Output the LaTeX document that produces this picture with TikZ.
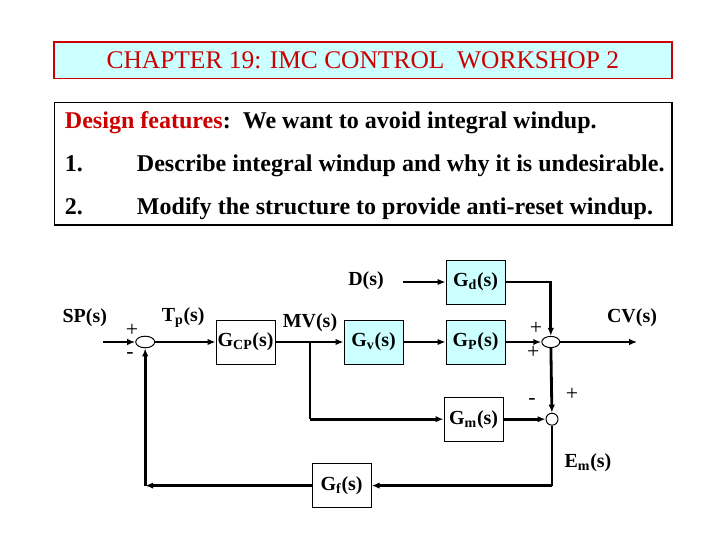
\documentclass[tikz,border=0pt]{standalone}
\usepackage{fontspec}
\setmainfont{Liberation Serif}
\usetikzlibrary{shapes.geometric,arrows.meta}
\definecolor{tred}{RGB}{204,0,0}
\definecolor{tcyan}{RGB}{204,255,255}

\begin{document}
\begin{tikzpicture}[>={Latex[length=2mm,width=1.6mm]},
  blk/.style={draw,line width=0.7pt,minimum width=1.475cm,minimum height=1.1cm,inner sep=0pt,font=\fontsize{14.2}{16}\selectfont\bfseries},
  cblk/.style={blk,fill=tcyan},
  lbl/.style={font=\fontsize{14.2}{16}\selectfont\bfseries},
  sgn/.style={font=\fontsize{15.5}{16}\selectfont,inner sep=0pt},
  sumnode/.style={draw,line width=0.7pt,ellipse,minimum width=0.475cm,minimum height=0.29cm,inner sep=0pt},
  sig/.style={line width=2pt},
  wire/.style={line width=0.8pt}]
\useasboundingbox (0,0) rectangle (18,13.5);
% heading
\draw[tred,fill=tcyan,line width=0.8pt] (1.35,11.54) rectangle (16.8,12.45);
\node[tred,font=\fontsize{18.1}{20}\selectfont] (title) at (9.07,12.0) {CHAPTER 19: IMC CONTROL\ \ WORKSHOP 2};
\draw[line width=0.8pt] (1.37,7.875) rectangle (16.8,10.94);
\node[anchor=base west,font=\fontsize{17.1}{19}\selectfont\bfseries] (feat) at (1.5,10.28) {{\color{tred}Design features}:\ \ We want to avoid integral windup.};
\node[anchor=base west,font=\fontsize{17.1}{19}\selectfont\bfseries] (one) at (1.5,9.2) {1.};
\node[anchor=base west,font=\fontsize{17.1}{19}\selectfont\bfseries] (onetxt) at (3.3,9.2) {Describe integral windup and why it is undesirable.};
\node[anchor=base west,font=\fontsize{17.1}{19}\selectfont\bfseries] (two) at (1.5,8.125) {2.};
\node[anchor=base west,font=\fontsize{17.1}{19}\selectfont\bfseries] (twotxt) at (3.3,8.125) {Modify the structure to provide anti-reset windup.};

% blocks
\node[sumnode] (sum1) at (3.63,4.95) {};
\node[blk] (gcp) at (6.14,4.95) {G\textsubscript{CP}(s)};
\node[cblk] (gv) at (9.34,4.95) {G\textsubscript{v}(s)};
\node[cblk] (gp) at (11.89,4.95) {G\textsubscript{P}(s)};
\node[cblk] (gd) at (11.89,6.45) {G\textsubscript{d}(s)};
\node[sumnode,minimum width=0.45cm,minimum height=0.28cm] (sum2) at (13.77,4.95) {};
\node[blk] (gm) at (11.84,3.02) {G\textsubscript{m}(s)};
\node[draw,circle,line width=0.7pt,minimum size=0.3cm,inner sep=0pt] (cmp) at (13.8,3.02) {};
\node[blk] (gf) at (8.54,1.36) {G\textsubscript{f}(s)};

% labels
\node[lbl] (sp) at (2.12,5.55) {SP(s)};
\node[lbl] (tp) at (4.58,5.55) {T\textsubscript{p}(s)};
\node[lbl] (mvl) at (7.75,5.42) {MV(s)};
\node[lbl] (dist) at (9.15,6.47) {D(s)};
\node[lbl] (cvl) at (15.8,5.55) {CV(s)};
\node[lbl] (eml) at (14.7,1.93) {E\textsubscript{m}(s)};

% signs
\node[sgn] at (3.3,5.25) {+};
\node[sgn] at (3.25,4.6) {-};
\node[sgn] at (13.4,5.3) {+};
\node[sgn] at (13.33,4.68) {+};
\node[sgn] at (13.3,3.45) {-};
\node[sgn] at (14.3,3.63) {+};

% points
\coordinate (spin) at (2.57,4.95);
\coordinate (cvout) at (15.93,4.95);
\coordinate (dstart) at (10.07,6.45);
\coordinate (mv) at (7.75,4.95);
\coordinate (mvdown) at (7.75,3.02);
\coordinate (em) at (13.8,1.36);
\coordinate (fb) at (3.63,1.36);

% signals
\draw[sig,->] (spin) -- (sum1);
\draw[sig,->] (sum1) -- (gcp);
\draw[sig,->] (gcp) -- (gv);
\draw[sig,->] (gv) -- (gp);
\draw[sig,->] (dstart) -- (gd);
\draw[sig,->] (gp) -- (sum2);
\draw[sig,->] (gd) -| (sum2);
\draw[sig,->] (sum2) -- (cvout);
\draw[sig,->] (sum2) -- (cmp);
\draw[wire] (mv) -- (mvdown);
\draw[sig,->] (mvdown) -- (gm);
\draw[sig,->] (gm) -- (cmp);
\draw[wire] (cmp) -- (em);
\draw[sig,->] (em) -- (gf);
\draw[sig,->] (gf) -- (fb);
\draw[sig,->] (fb) -- (sum1);
\end{tikzpicture}
\end{document}
